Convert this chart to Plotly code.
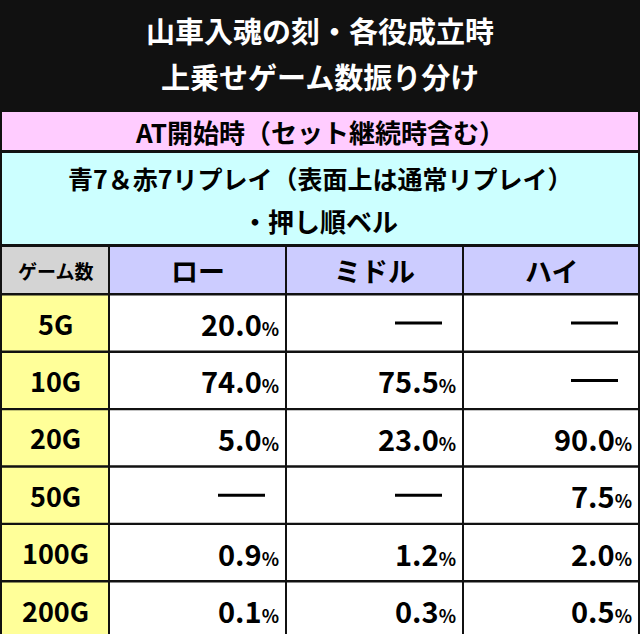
import plotly.graph_objects as go

title_lines = ["山車入魂の刻・各役成立時", "上乗せゲーム数振り分け"]
band1 = "AT開始時（セット継続時含む）"
band2 = ["青7＆赤7リプレイ（表面上は通常リプレイ）", "・押し順ベル"]
corner = "ゲーム数"
columns = ["ロー", "ミドル", "ハイ"]
games = ["5G", "10G", "20G", "50G", "100G", "200G"]
low = [20.0, 74.0, 5.0, None, 0.9, 0.1]
mid = [None, 75.5, 23.0, None, 1.2, 0.3]
high = [None, None, 90.0, 7.5, 2.0, 0.5]

W, H = 640, 634
FONT = "Noto Sans CJK JP"
shapes, ann = [], []

def rect(x0, y0, x1, y1, color):
    shapes.append(dict(type="rect", x0=x0, x1=x1, y0=y0, y1=y1, fillcolor=color,
                       line=dict(width=0), layer="below"))

def text(x, y, s, size, color="black", anchor="center"):
    ann.append(dict(x=x, y=y, text=s, showarrow=False, xanchor=anchor, yanchor="middle",
                    font=dict(family=FONT, size=size, color=color)))

rect(0, 0, W, H, "#111111")
text(W/2, 30, "<b>"+title_lines[0]+"</b>", 29, "white")
text(W/2, 76, "<b>"+title_lines[1]+"</b>", 29, "white")
rect(2, 112, 638, 150, "#FFCCFF")
text(W/2, 131, "<b>"+band1+"</b>", 26)
rect(2, 153, 638, 244, "#CCFFFF")
text(W/2, 178, "<b>"+band2[0]+"</b>", 25)
text(W/2, 220, "<b>"+band2[1]+"</b>", 26)

cols = [(2, 108), (110, 285), (287, 462), (464, 638)]
hy0, hy1 = 247, 293
rect(cols[0][0], hy0, cols[0][1], hy1, "#D4D4D4")
text((cols[0][0]+cols[0][1])/2, 270, "<b>"+corner+"</b>", 19)
for (x0, x1), c in zip(cols[1:], columns):
    rect(x0, hy0, x1, hy1, "#CCCCFF")
    text((x0+x1)/2, 270, "<b>"+c+"</b>", 27)

rh, gap, y = 55, 2.4, 295.5
series = [low, mid, high]
for i, g in enumerate(games):
    y0 = y + i*(rh+gap)
    y1 = y0 + rh
    yc = (y0+y1)/2
    rect(cols[0][0], y0, cols[0][1], y1, "#FFFF99")
    text((cols[0][0]+cols[0][1])/2, yc, "<b>"+g+"</b>", 27)
    for (x0, x1), s in zip(cols[1:], series):
        rect(x0, y0, x1, y1, "white")
        v = s[i]
        if v is None:
            shapes.append(dict(type="line", x0=x1-67, x1=x1-20, y0=yc, y1=yc,
                               line=dict(color="black", width=3)))
        else:
            text(x1-4, yc, "<b>%.1f<span style='font-size:18px'>%%</span></b>" % v, 29, anchor="right")

fig = go.Figure()
fig.update_layout(width=W, height=H, margin=dict(l=0, r=0, t=0, b=0),
                  paper_bgcolor="#111111", plot_bgcolor="#111111",
                  xaxis=dict(range=[0, W], visible=False, fixedrange=True),
                  yaxis=dict(range=[H, 0], visible=False, fixedrange=True),
                  shapes=shapes, annotations=ann, showlegend=False)
fig.write_html("out.html", config={"displayModeBar": False},
               post_script="document.body.style.margin='0';document.body.style.padding='0';document.body.style.overflow='hidden';")
